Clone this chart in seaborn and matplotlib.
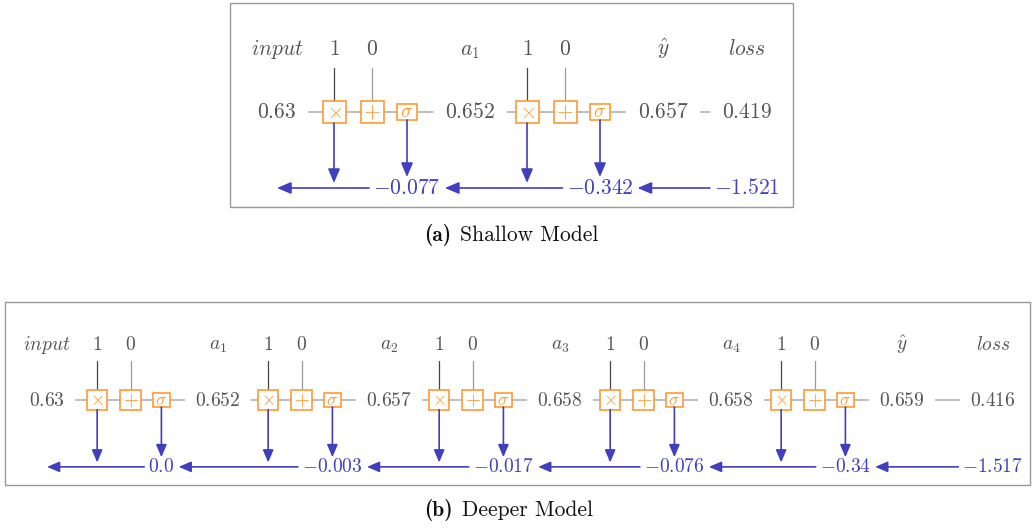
import matplotlib
matplotlib.use('Agg')
import matplotlib.pyplot as plt
import seaborn as sns
from matplotlib.patches import Rectangle

# shallow model: one hidden unit
shallow_names = ['input', 'a_1', r'\hat{y}', 'loss']
shallow_forward = [0.63, 0.652, 0.657, 0.419]
shallow_weights = [1, 1]
shallow_biases = [0, 0]
shallow_grads = [-0.077, -0.342, -1.521]

# deeper model: four hidden units
deep_names = ['input', 'a_1', 'a_2', 'a_3', 'a_4', r'\hat{y}', 'loss']
deep_forward = [0.63, 0.652, 0.657, 0.658, 0.658, 0.659, 0.416]
deep_weights = [1, 1, 1, 1, 1]
deep_biases = [0, 0, 0, 0, 0]
deep_grads = [0.0, -0.003, -0.017, -0.076, -0.34, -1.517]

sns.set_theme(style='white')
plt.rcParams['mathtext.fontset'] = 'cm'

TEXT_GRAY = '#555555'
LINE_GRAY = '#9a9a9a'
DARK_LINE = '#444444'
ORANGE = '#ff9933'
BLUE = '#4040bf'
PX = 0.72  # pixels -> points at dpi 100


def draw_graph(ax, names, forward, weights, biases, grads,
               x0, pitch, loss_gap, y_fwd, s, fs):
    n = len(weights)
    y_lab = y_fwd - 57 * s
    y_grad = y_fwd + 76 * s
    xs = [x0 + k * pitch for k in range(n + 1)] + [x0 + n * pitch + loss_gap]

    # node names on top row
    for x, name in zip(xs, names):
        ax.text(x, y_lab, f'${name}$', ha='center', va='baseline',
                fontsize=fs, color=TEXT_GRAY)

    # forward values
    vals = []
    for x, v in zip(xs, forward):
        vals.append(ax.text(x, y_fwd, f'${v}$', ha='center', va='center',
                            fontsize=fs, color=TEXT_GRAY, zorder=4))
    for a, b in zip(vals[:-1], vals[1:]):
        ax.annotate('', xy=(0, y_fwd), xycoords=(b, 'data'),
                    xytext=(1, y_fwd), textcoords=(a, 'data'),
                    arrowprops=dict(arrowstyle='-', color=LINE_GRAY, lw=0.9,
                                    shrinkA=12 * s * PX, shrinkB=12 * s * PX))

    head = f'-|>,head_length={0.85 * s:.2f},head_width={0.36 * s:.2f}'
    sig_xs = []
    bw, bh = 23 * s, 22 * s
    sw, sh = 20 * s, 16 * s
    for k in range(n):
        mx, ax_, sx = xs[k] + 57 * s, xs[k] + 95 * s, xs[k] + 130 * s
        sig_xs.append(sx)
        # weight and bias inputs
        for bx, p, col in [(mx, weights[k], DARK_LINE), (ax_, biases[k], LINE_GRAY)]:
            ax.text(bx, y_lab, f'${p}$', ha='center', va='baseline',
                    fontsize=fs, color=TEXT_GRAY)
            ax.plot([bx, bx], [y_lab + 13 * s, y_fwd - bh / 2],
                    color=col, lw=0.9, zorder=1)
        # operation boxes
        for bx, w, h, sym, sz in [(mx, bw, bh, r'\times', fs * 0.95),
                                  (ax_, bw, bh, '+', fs * 1.0),
                                  (sx, sw, sh, r'\sigma', fs * 0.9)]:
            ax.add_patch(Rectangle((bx - w / 2, y_fwd - h / 2), w, h,
                                   facecolor='white', edgecolor=ORANGE,
                                   lw=1.2, zorder=3))
            ax.text(bx, y_fwd, f'${sym}$', ha='center', va='center',
                    fontsize=sz, color=ORANGE, zorder=4)
        # gradient drops
        ax.annotate('', xy=(mx, y_grad - 5 * s), xytext=(mx, y_fwd + bh / 2),
                    arrowprops=dict(arrowstyle=head, color=BLUE, lw=1.2,
                                    shrinkA=0, shrinkB=0, mutation_scale=10))
        ax.annotate('', xy=(sx, y_grad - 11 * s), xytext=(sx, y_fwd + sh / 2),
                    arrowprops=dict(arrowstyle=head, color=BLUE, lw=1.2,
                                    shrinkA=0, shrinkB=0, mutation_scale=10))

    # backward row
    gx = sig_xs + [xs[-1]]
    gtexts = [ax.text(x, y_grad, f'${g}$', ha='center', va='center',
                      fontsize=fs, color=BLUE) for x, g in zip(gx, grads)]
    ax.annotate('', xy=(xs[0], y_grad), xytext=(0, y_grad),
                textcoords=(gtexts[0], 'data'),
                arrowprops=dict(arrowstyle=head, color=BLUE, lw=1.2,
                                shrinkA=3, shrinkB=0, mutation_scale=10))
    for a, b in zip(gtexts[:-1], gtexts[1:]):
        ax.annotate('', xy=(1, y_grad), xycoords=(a, 'data'),
                    xytext=(0, y_grad), textcoords=(b, 'data'),
                    arrowprops=dict(arrowstyle=head, color=BLUE, lw=1.2,
                                    shrinkA=3, shrinkB=3, mutation_scale=10))


def caption(ax, x, y, tag, title):
    # bold tag on the left, roman title on the right of x
    ax.text(x, y, tag, ha='right', va='center', fontsize=15.5,
            family='cmb10', color='#111111')
    ax.text(x + 9, y, title, ha='left', va='center', fontsize=15.5,
            family='cmr10', color='#111111')


fig = plt.figure(figsize=(10.35, 5.28), dpi=100)
ax = fig.add_axes([0, 0, 1, 1])
ax.set_xlim(0, 1035)
ax.set_ylim(528, 0)
ax.axis('off')

draw_graph(ax, shallow_names, shallow_forward, shallow_weights, shallow_biases,
           shallow_grads, x0=277, pitch=193, loss_gap=84, y_fwd=112, s=1.0, fs=15.5)
draw_graph(ax, deep_names, deep_forward, deep_weights, deep_biases,
           deep_grads, x0=47, pitch=171, loss_gap=91, y_fwd=400, s=0.88, fs=14)

ax.add_patch(Rectangle((230, 3), 563, 204, fill=False, edgecolor='#999999', lw=1))
ax.add_patch(Rectangle((5, 302), 1025, 183, fill=False, edgecolor='#999999', lw=1))

caption(ax, 451, 235, '(a)', 'Shallow Model')
caption(ax, 453, 510, '(b)', 'Deeper Model')

fig.savefig('out.png', dpi=100)
